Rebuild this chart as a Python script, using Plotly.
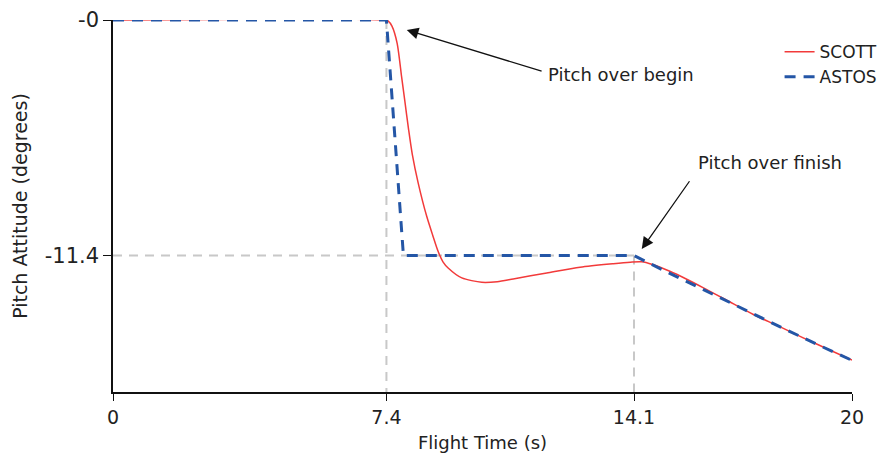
import plotly.graph_objects as go

# ---- data ----
scott_t = [0, 7.35, 7.45, 7.55, 7.69, 7.81, 7.9, 8.0, 8.1, 8.26, 8.49, 8.65, 8.80, 8.93,
           9.07, 9.44, 9.98, 10.4, 10.83, 11.74, 12.64, 13.54, 14.0, 14.3, 14.6, 15.07,
           15.5, 15.98, 16.6, 17.33, 18.0, 18.68, 19.35, 20.0]
scott_y = [0, 0, -0.05, -0.3, -1.13, -2.74, -3.95, -5.3, -6.5, -7.89, -9.50, -10.4, -11.2, -11.7,
           -12.0, -12.48, -12.69, -12.66, -12.53, -12.24, -11.96, -11.79, -11.72, -11.70, -11.83, -12.16,
           -12.52, -12.96, -13.55, -14.25, -14.8, -15.38, -15.93, -16.45]

astos_t = [0, 7.4, 7.86, 14.1, 15.0, 16.0, 17.0, 18.0, 19.0, 20.0]
astos_y = [0, 0, -11.4, -11.4, -12.2, -13.08, -13.95, -14.8, -15.65, -16.47]

x_ticks = [0, 7.4, 14.1, 20]
x_ticktext = ["0", "7.4", "14.1", "20"]
y_ticks = [0, -11.4]
y_ticktext = ["-0", "-11.4"]

pitch_begin_t = 7.4
pitch_end_t = 14.1
pitch_level = -11.4

FONT = "DejaVu Sans"
GREY = "#c8c8c8"

fig = go.Figure()

# guide lines
fig.add_trace(go.Scatter(x=[pitch_begin_t, pitch_begin_t], y=[0, -18], mode="lines",
                         line=dict(color=GREY, width=2, dash="9px,7px"), showlegend=False, hoverinfo="skip"))
fig.add_trace(go.Scatter(x=[pitch_end_t, pitch_end_t], y=[pitch_level, -18], mode="lines",
                         line=dict(color=GREY, width=2, dash="9px,7px"), showlegend=False, hoverinfo="skip"))
fig.add_trace(go.Scatter(x=[0, pitch_end_t], y=[pitch_level, pitch_level], mode="lines",
                         line=dict(color=GREY, width=2, dash="9px,7px"), showlegend=False, hoverinfo="skip"))

fig.add_trace(go.Scatter(x=scott_t, y=scott_y, mode="lines", name="SCOTT",
                         line=dict(color="#f23a3a", width=1.5, shape="spline", smoothing=0.7)))
fig.add_trace(go.Scatter(x=astos_t, y=astos_y, mode="lines", name="ASTOS",
                         line=dict(color="#2456a6", width=3, dash="11px,8px")))

fig.update_traces(cliponaxis=False)

# annotations
fig.add_annotation(x=7.95, y=-0.48, ax=11.64, ay=-2.5, axref="x", ayref="y", xref="x", yref="y",
                   text="", showarrow=True, arrowhead=2, arrowsize=1.8, arrowwidth=1.3, arrowcolor="#111")
fig.add_annotation(x=11.72, y=-2.66, xref="x", yref="y", text="Pitch over begin", showarrow=False,
                   xanchor="left", yanchor="middle", font=dict(family=FONT, size=18, color="#222"))
fig.add_annotation(x=14.31, y=-11.08, ax=15.63, ay=-7.73, axref="x", ayref="y", xref="x", yref="y",
                   text="", showarrow=True, arrowhead=2, arrowsize=1.8, arrowwidth=1.3, arrowcolor="#111")
fig.add_annotation(x=15.78, y=-6.91, xref="x", yref="y", text="Pitch over finish", showarrow=False,
                   xanchor="left", yanchor="middle", font=dict(family=FONT, size=18, color="#222"))

fig.update_layout(
    width=880, height=451,
    margin=dict(l=105, r=36, t=12, b=67, autoexpand=False),
    paper_bgcolor="white", plot_bgcolor="white",
    font=dict(family=FONT, color="#222"),
    legend=dict(x=0.902, y=0.962, xanchor="left", yanchor="top", bgcolor="rgba(0,0,0,0)",
                font=dict(family=FONT, size=17, color="#222"), tracegroupgap=0, borderwidth=0),
    showlegend=True,
)
fig.update_xaxes(range=[0, 20], tickvals=x_ticks, ticktext=x_ticktext, showgrid=False, zeroline=False,
                 showline=True, linecolor="#111", linewidth=1.5, ticks="outside", ticklen=7,
                 tickcolor="#111", tickwidth=1.3, tickfont=dict(family=FONT, size=19, color="#222"),
                 title=dict(text="Flight Time (s)", font=dict(family=FONT, size=18, color="#222"), standoff=10))
fig.update_yaxes(range=[-18, 0], tickvals=y_ticks, ticktext=y_ticktext, showgrid=False, zeroline=False,
                 showline=True, linecolor="#111", linewidth=1.5, ticks="outside", ticklen=8,
                 tickcolor="#111", tickwidth=1.3, tickfont=dict(family=FONT, size=21, color="#222"),
                 title=dict(text="Pitch Attitude (degrees)", font=dict(family=FONT, size=19, color="#222"), standoff=12))

fig.write_html("out.html")
